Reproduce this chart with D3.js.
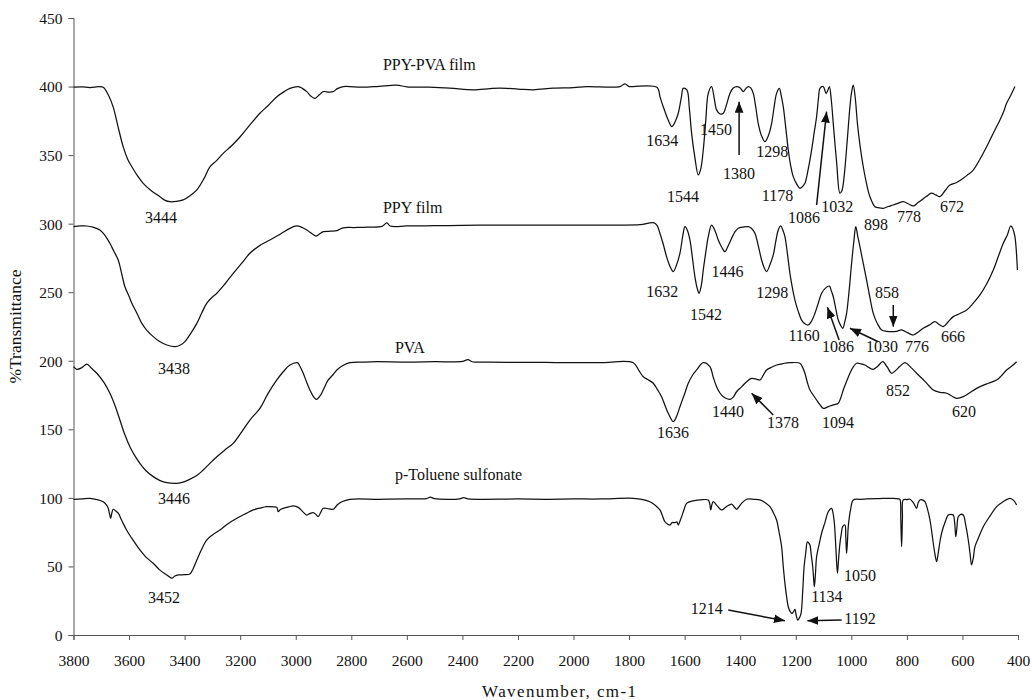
<!DOCTYPE html>
<html>
<head>
<meta charset="utf-8">
<script src="https://cdn.jsdelivr.net/npm/d3@7"></script>
<style>
  html, body { margin: 0; padding: 0; background: #fff; }
  svg text { font-family: "Liberation Serif", "Times New Roman", serif; fill: #111; }
</style>
</head>
<body>
<svg id="chart" width="1032" height="700"></svg>
<script>
// FTIR spectra: [wavenumber (cm-1), %Transmittance]
const ppyPvaFilm = [
  [3800,399.5],[3770,399.8],[3740,399.3],[3710,400],[3693,399.5],[3675,394],[3657,385],[3640,371],[3621,356],[3605,347],
  [3590,341.5],[3570,335],[3549,329.4],[3520,324],[3489,319.7],[3470,317],[3453,316],[3430,316.2],[3405,317.3],[3380,320.5],
  [3356,324.6],[3330,333],[3309,341.5],[3285,346],[3261,351.3],[3230,357],[3200,363.4],[3165,372],[3129,380.5],[3100,386],
  [3068,392.6],[3040,396.5],[3021,398.7],[2991,400],[2975,398.5],[2960,396.3],[2945,393],[2931,391.4],[2915,394],[2901,396.3],
  [2880,396],[2865,396.3],[2850,398.5],[2829,400],[2760,399.5],[2700,400.2],[2637,401],[2600,399.8],[2520,399.5],[2445,398.8],
  [2361,397.6],[2300,398.5],[2265,398.8],[2200,398.2],[2145,397.6],[2073,398.8],[2000,399.2],[1953,400],[1833,400],[1815,402],
  [1800,400],[1785,400],[1700,399.5],[1688,392],[1677,385.3],[1660,376],[1646,370.7],[1635,374],[1623,380.5],[1612,392],
  [1605,398.7],[1592,397.5],[1583,384],[1575,366],[1563,348],[1551,335.5],[1542,340],[1533,353.7],[1524,375],[1515,395],
  [1503,400],[1494,392],[1485,383],[1473,380],[1461,380.5],[1449,387],[1437,395],[1425,399],[1413,400],[1400,399],
  [1389,396.3],[1380,398.5],[1371,400],[1362,399],[1353,395],[1344,385],[1335,373],[1323,364],[1311,359.8],[1299,364],
  [1287,373],[1278,385],[1269,395],[1259,398.7],[1252,393],[1245,385.3],[1236,370],[1227,353.7],[1218,342],[1209,334.3],
  [1197,329],[1185,325.8],[1176,327],[1167,329.4],[1155,340],[1143,353.7],[1134,366],[1125,378],[1118,392],[1113,398.7],
  [1101,400],[1091,395],[1085,397],[1079,400],[1072,390],[1065,373],[1053,345],[1041,322.2],[1034,324],[1026,334.3],
  [1015,360],[1005,385.3],[999,396],[993,401],[986,392],[978,373],[968,356],[957,341.5],[945,329],[933,319.7],
  [915,312.4],[900,311.5],[885,311.2],[867,312.5],[849,313.6],[831,315],[813,316],[795,314.5],[777,312.9],[762,315],
  [747,317.3],[729,320],[711,322.2],[696,321],[681,319.7],[663,324],[645,328.2],[621,330],[597,333.1],[579,336],
  [561,339.1],[537,347],[513,356.1],[489,366],[465,375.6],[453,381],[441,387.8],[425,394],[411,400]
];

const ppyFilm = [
  [3800,297.8],[3775,298.3],[3752,298.3],[3730,297.5],[3705,295.4],[3685,291],[3669,285.7],[3655,280],[3639,273.5],[3627,264],
  [3615,254],[3600,247],[3590,242],[3570,234],[3554,227.3],[3535,222],[3513,217.6],[3490,214],[3464,211.5],[3435,210.3],
  [3415,211.5],[3399,214],[3378,220],[3356,227.3],[3338,235],[3320,242],[3300,246.5],[3284,249.2],[3255,256],[3225,263.8],
  [3195,271],[3165,278.4],[3130,284],[3093,288.1],[3055,292.5],[3021,296.6],[2997,298.3],[2980,297.5],[2960,295.4],[2940,292.5],
  [2927,291],[2912,292.8],[2901,294.2],[2875,294.5],[2852,294.9],[2829,297],[2790,297.2],[2740,297.5],[2690,298],[2672,300.5],
  [2660,298.3],[2600,298.3],[2500,298.5],[2400,298.8],[2300,299],[2200,299],[2100,299],[2000,299],[1900,299],[1833,299],
  [1760,299.3],[1713,300.7],[1700,299],[1689,293],[1677,285],[1665,275.9],[1653,269],[1641,265],[1629,270],[1617,278.4],
  [1606,292],[1599,297.8],[1590,295],[1581,288.1],[1572,275],[1563,261.3],[1555,253],[1548,249.2],[1540,255],[1533,266.2],
  [1524,279],[1515,290.5],[1503,299],[1491,295],[1479,288.1],[1467,283],[1455,279.6],[1443,284],[1431,289.3],[1419,294],
  [1407,296.6],[1389,297.5],[1371,297.8],[1359,296.5],[1347,293],[1335,284],[1323,273.5],[1314,268],[1305,265],[1293,270],
  [1281,277.2],[1272,287],[1263,295.4],[1254,298.3],[1246,295],[1239,290.5],[1230,278],[1221,263.8],[1212,253],[1203,244.3],
  [1191,236],[1179,229.7],[1167,227],[1155,226.1],[1143,229],[1131,234.6],[1119,242],[1107,249.2],[1093,253],[1079,254.5],
  [1072,251],[1065,246.7],[1056,238],[1047,229.7],[1039,226],[1031,223.7],[1024,228],[1017,234.6],[1008,251],[999,271.1],
  [991,287],[984,297.8],[977,291],[969,283.2],[957,271],[945,258.9],[933,246],[921,234.6],[906,227],[891,222.5],
  [873,221.5],[855,221.2],[837,221.5],[819,222.5],[798,220.5],[777,218.8],[759,221],[741,223.7],[720,226],[699,228.5],
  [684,226.5],[669,224.9],[651,228.5],[633,232.2],[609,234.5],[585,237],[561,242],[537,248],[513,256],[489,266.2],
  [471,276],[453,285.7],[438,292],[426,298.3],[418,296],[411,290.5],[402,266.2]
];

const pva = [
  [3800,195.7],[3788,193.8],[3770,195],[3752,197.6],[3735,194.5],[3716,190.9],[3690,184],[3669,176.3],[3650,167],[3633,156.8],
  [3615,146],[3597,137.3],[3580,131],[3561,125.2],[3540,120],[3513,115.5],[3490,112.8],[3464,111.1],[3428,110.6],[3405,111.5],
  [3381,113.6],[3355,116.5],[3333,120.3],[3310,125],[3284,130],[3255,135],[3225,139.8],[3195,148],[3165,156.8],[3129,165.3],
  [3100,176],[3068,186],[3045,192],[3021,196.9],[2994,198.6],[2985,196],[2973,190.9],[2960,184],[2949,178.7],[2935,173.5],
  [2925,171.9],[2912,174.5],[2901,178.7],[2883,186],[2865,190],[2852,193.3],[2830,196.5],[2805,198.6],[2760,199],[2708,199.3],
  [2600,199],[2500,199.3],[2400,199.5],[2380,200.8],[2365,199.3],[2300,199],[2200,198.8],[2100,198.8],[2000,198.6],[1904,198.6],
  [1785,198.6],[1765,193],[1749,188.4],[1730,186],[1713,183.6],[1698,179],[1683,173.8],[1670,167],[1659,161.7],[1641,155.6],
  [1630,159],[1617,166.5],[1600,176],[1587,183.6],[1570,190],[1557,193.3],[1533,198.6],[1509,195.7],[1497,188],[1485,181.1],
  [1473,176.5],[1461,173.8],[1437,171.9],[1425,173.5],[1413,177.4],[1395,181],[1377,184.7],[1359,187.2],[1340,186.5],[1329,186],
  [1317,189.5],[1305,193.3],[1285,195.5],[1269,196.9],[1245,198],[1221,198.6],[1185,198.2],[1175,195],[1167,190.9],[1158,184],
  [1149,178.7],[1137,175],[1125,171.4],[1113,168],[1101,165.3],[1089,166],[1077,167],[1062,168],[1047,169],[1038,173],
  [1029,178.7],[1017,185],[1005,190.9],[993,195.5],[981,198.2],[966,197.8],[951,196.9],[936,195],[921,193.8],[905,196],
  [887,199.3],[871,195.5],[855,190.9],[840,193],[825,196],[807,198.6],[785,195],[765,190.9],[735,185],[705,178.7],
  [680,177],[657,176.3],[640,174.5],[621,172.6],[597,173.8],[575,176.5],[549,179.9],[515,183],[477,186],[460,189],
  [441,193.3],[420,196.5],[405,199.3]
];

const pToluene = [
  [3800,99],[3770,99.3],[3741,99.7],[3715,98.8],[3693,97.2],[3682,95],[3675,92.4],[3670,88],[3666,85.1],[3662,89],
  [3657,91.7],[3648,90.5],[3639,88.8],[3625,83],[3609,76.6],[3585,69],[3561,62],[3540,57],[3513,52.3],[3490,47.5],
  [3464,43.8],[3446,41.4],[3435,43],[3423,43.8],[3400,44],[3381,44.5],[3370,48],[3356,54.7],[3340,62],[3320,69.3],
  [3300,73],[3273,76.6],[3245,81],[3212,85.1],[3180,88.5],[3153,91.2],[3130,92.5],[3105,93.6],[3080,93.5],[3068,93.1],
  [3063,89.9],[3055,91.5],[3045,92.4],[3025,93.5],[3009,94.1],[2991,93.1],[2975,90],[2960,87.5],[2950,88.5],[2937,89.2],
  [2928,88],[2919,86.3],[2910,89.5],[2901,92.4],[2880,92],[2865,91.7],[2850,95],[2834,97.2],[2805,99],[2700,99],
  [2600,99.2],[2530,99.5],[2515,100.5],[2500,99.4],[2410,99.3],[2395,100.2],[2380,99.3],[2200,99.2],[2100,99],[2000,99.2],
  [1904,99.2],[1785,99.7],[1750,98.8],[1725,97.2],[1705,94.5],[1689,91.2],[1680,87],[1671,82.6],[1662,81],[1653,80.2],
  [1645,82],[1635,81.9],[1628,82.5],[1623,80.2],[1617,83],[1611,86.3],[1602,91.5],[1593,96],[1570,97.8],[1545,98.5],
  [1515,98.5],[1510,96],[1506,91.2],[1502,95],[1497,97.2],[1482,94],[1467,91.2],[1450,93.5],[1431,95.5],[1420,93],
  [1413,91.7],[1395,96],[1377,99],[1350,99],[1329,98.5],[1310,96.5],[1293,93.6],[1280,89],[1269,83.9],[1260,75],
  [1251,64.4],[1245,50],[1239,37.7],[1233,28],[1227,20.6],[1220,17],[1214,15.8],[1208,17],[1203,18.7],[1198,14],
  [1193,10.9],[1187,12.5],[1181,15.8],[1175,32],[1170,49.8],[1164,60],[1158,68],[1153,67],[1149,65.6],[1144,58],
  [1139,49.8],[1136,42],[1133,35.2],[1129,45],[1125,57.1],[1116,66],[1107,74.2],[1095,82],[1083,89.9],[1071,92.4],
  [1066,89],[1061,81.5],[1056,65],[1050,45],[1046,55],[1041,66.8],[1036,74],[1031,79],[1023,80.2],[1020,72],
  [1017,59.6],[1014,68],[1011,79],[1003,91],[993,98.5],[970,99],[945,99.2],[900,99.5],[849,99.7],[830,99.3],
  [825,99],[822,85],[819,64.4],[816,85],[813,98.5],[800,98.8],[789,99],[777,96.5],[765,92.4],[760,96],
  [753,98.5],[745,98.5],[735,97.2],[726,92],[717,83.9],[711,76],[705,66.9],[699,59],[693,53.5],[687,60],
  [681,68],[675,74.2],[663,82],[651,87.5],[642,88],[633,87.5],[628,82],[624,71.7],[620,78],[615,86.3],
  [606,88],[597,87.5],[588,80],[579,69.3],[573,60],[567,51.1],[561,56],[555,64.4],[540,72],[525,79],
  [500,87],[477,93.6],[455,97],[429,99.7],[415,98],[405,94.8]
];

const xTicks = [3800,3600,3400,3200,3000,2800,2600,2400,2200,2000,1800,1600,1400,1200,1000,800,600,400];
const yTicks = [0,50,100,150,200,250,300,350,400,450];

// Curve names, anchored at [wavenumber, %T] (text starts there)
const seriesNames = ["PPY-PVA film", "PPY film", "PVA", "p-Toluene sulfonate"];
const seriesNameAt = [[2686,412],[2686,307.8],[2643,205.4],[2643,113]];

// Band assignments: label text and its centre/baseline in data units
const bandLabels = ["3444","3438","3446","3452",
  "1634","1450","1380","1298","1544","1178","1086","1032","898","778","672",
  "1632","1446","1542","1298","1160","1086","1030","776","666","858",
  "1636","1440","1378","1094","852","620",
  "1050","1134","1214","1192"];
const bandLabelAt = [[3485,300.5],[3438,190.4],[3438,95.5],[3474,23.3],
  [1681,356.6],[1487,364.7],[1404,332.4],[1285,348.4],[1606,316],[1266,316.5],[1170,300.7],[1051,308.7],[911,295.4],[792,301.4],[638,308.7],
  [1681,246.3],[1446,261.3],[1523,229.7],[1285,245.6],[1170,214.6],[1048,206.6],[890,206.6],[764,206.6],[634,213.9],[872,245.6],
  [1642,143.5],[1444,158.8],[1246,150.8],[1048,150.8],[832,174.5],[594,158.8],
  [969,39.6],[1088,23.8],[1520,15.3],[969,8]];

// Pointer arrows: [tail wavenumber, tail %T, head wavenumber, head %T]
const arrows = [
  [1404,350.1,1404,388.9],
  [1125,313.6,1089,381.7],
  [849,240.7,849,224.9],
  [1044,215.2,1086,239],
  [903,213.9,1005,223.7],
  [1281,160.5,1359,176.3],
  [1443,18.2,1239,10.4],
  [1035,10.9,1158,10.4]
];

const svg = d3.select("#chart");
const x = d3.scaleLinear().domain([3800, 400]).range([73.5, 1018]);
const y = d3.scaleLinear().domain([0, 450]).range([635, 18]);

svg.append("defs").append("marker")
  .attr("id", "head")
  .attr("viewBox", "0 0 10 8")
  .attr("refX", 10).attr("refY", 4)
  .attr("markerUnits", "userSpaceOnUse")
  .attr("markerWidth", 11).attr("markerHeight", 9)
  .attr("orient", "auto")
  .append("path").attr("d", "M0,0 L10,4 L0,8 Z").attr("fill", "#111");

// axes
const xAxis = svg.append("g")
  .attr("transform", `translate(0,${y(0)})`)
  .call(d3.axisBottom(x).tickValues(xTicks).tickFormat(d3.format("d")).tickSize(5).tickPadding(15));
const yAxis = svg.append("g")
  .attr("transform", `translate(${x(3800)},0)`)
  .call(d3.axisLeft(y).tickValues(yTicks).tickSize(5).tickPadding(6));
[xAxis, yAxis].forEach(g => {
  g.select(".domain").attr("stroke", "#555").attr("stroke-width", 1);
  g.selectAll(".tick line").attr("stroke", "#555");
  g.selectAll(".tick text").attr("font-size", 15.5).attr("font-family", "Liberation Serif").attr("fill", "#111");
});
yAxis.selectAll(".tick text").attr("dy", "0.35em");

svg.append("text")
  .attr("x", (x(3800) + x(400)) / 2 + 14).attr("y", 697)
  .attr("text-anchor", "middle").attr("font-size", 17).attr("letter-spacing", 1.4)
  .text("Wavenumber, cm-1");
svg.append("text")
  .attr("transform", `translate(21,${(y(0) + y(450)) / 2}) rotate(-90)`)
  .attr("text-anchor", "middle").attr("font-size", 17.5)
  .text("%Transmittance");

// spectra
const line = d3.line().x(d => x(d[0])).y(d => y(d[1])).curve(d3.curveCatmullRom.alpha(0.5));
[ppyPvaFilm, ppyFilm, pva, pToluene].forEach(s => {
  svg.append("path").datum(s)
    .attr("fill", "none").attr("stroke", "#111").attr("stroke-width", 1.25)
    .attr("stroke-linejoin", "round").attr("d", line);
});

// curve names
seriesNames.forEach((t, i) => {
  svg.append("text").attr("x", x(seriesNameAt[i][0])).attr("y", y(seriesNameAt[i][1]))
    .attr("font-size", 16).text(t);
});

// band labels
bandLabels.forEach((t, i) => {
  svg.append("text").attr("x", x(bandLabelAt[i][0])).attr("y", y(bandLabelAt[i][1]))
    .attr("text-anchor", "middle").attr("font-size", 16).text(t);
});

// arrows
svg.append("g").selectAll("line").data(arrows).join("line")
  .attr("x1", d => x(d[0])).attr("y1", d => y(d[1]))
  .attr("x2", d => x(d[2])).attr("y2", d => y(d[3]))
  .attr("stroke", "#111").attr("stroke-width", 1.5)
  .attr("marker-end", "url(#head)");
</script>
</body>
</html>
